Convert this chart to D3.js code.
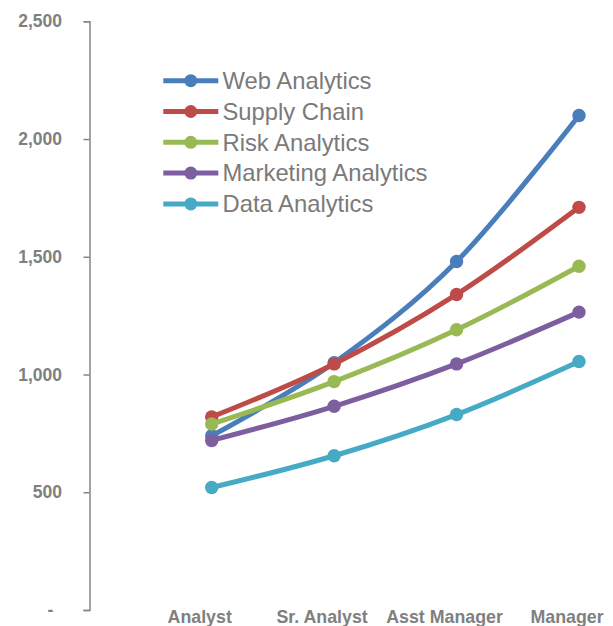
<!DOCTYPE html>
<html>
<head>
<meta charset="utf-8">
<script src="https://cdn.jsdelivr.net/npm/d3@7"></script>
<style>
  html, body { margin: 0; padding: 0; background: #fff; }
  svg { display: block; }
  text { font-family: "Liberation Sans", Arial, sans-serif; }
</style>
</head>
<body>
<svg id="chart" width="613" height="626"></svg>
<script>
// Salary progression by role level for each analytics track
const categories = ["Analyst", "Sr. Analyst", "Asst Manager", "Manager"];
const seriesNames = ["Web Analytics", "Supply Chain", "Risk Analytics", "Marketing Analytics", "Data Analytics"];
const webAnalytics       = [740, 1050, 1480, 2100];
const supplyChain        = [820, 1045, 1340, 1710];
const riskAnalytics      = [790, 970, 1190, 1460];
const marketingAnalytics = [720, 865, 1045, 1265];
const dataAnalytics      = [520, 655, 830, 1055];
const yTicks = [0, 500, 1000, 1500, 2000, 2500];
const colors = ["#4a7ebb", "#be4b48", "#98b954", "#7d5fa0", "#46aac5"];

const seriesValues = [webAnalytics, supplyChain, riskAnalytics, marketingAnalytics, dataAnalytics];
const series = seriesNames.map((name, i) => ({ name, color: colors[i], values: seriesValues[i] }));

const svg = d3.select("#chart");

const y = d3.scaleLinear().domain([0, 2500]).range([610, 21.3]);
const x = d3.scalePoint().domain(categories).range([211.7, 579]);

// Vertical value axis
const yAxis = d3.axisLeft(y)
  .tickValues(yTicks)
  .tickSize(6)
  .tickSizeOuter(6)
  .tickPadding(21.5)
  .tickFormat(d => d === 0 ? "-\u2002" : d3.format(",")(d));

const gy = svg.append("g")
  .attr("transform", "translate(89.5,0)")
  .call(yAxis);
gy.select(".domain").attr("stroke", "#868686").attr("stroke-width", 1.5);
gy.selectAll(".tick line").attr("stroke", "#868686").attr("stroke-width", 1.5);
gy.selectAll(".tick text")
  .attr("fill", "#808080")
  .style("font-family", "'Liberation Sans', Arial, sans-serif")
  .style("font-size", "17.5px")
  .style("font-weight", "bold")
  .style("white-space", "pre");

// Category labels along the bottom
svg.append("g")
  .selectAll("text")
  .data(categories)
  .join("text")
  .attr("x", d => x(d) - 12)
  .attr("y", 622.7)
  .attr("text-anchor", "middle")
  .attr("fill", "#808080")
  .style("font-size", "17.8px")
  .style("font-weight", "bold")
  .text(d => d);

// Smoothed lines with round markers
const line = d3.line()
  .x((d, i) => x(categories[i]))
  .y(d => y(d))
  .curve(d3.curveCardinal.tension(0));

const groups = svg.append("g")
  .selectAll("g")
  .data(series)
  .join("g");

groups.append("path")
  .attr("d", d => line(d.values))
  .attr("fill", "none")
  .attr("stroke", d => d.color)
  .attr("stroke-width", 5)
  .attr("stroke-linejoin", "round")
  .attr("stroke-linecap", "round");

groups.selectAll("circle")
  .data(d => d.values.map((v, i) => ({ v, i, color: d.color })))
  .join("circle")
  .attr("cx", d => x(categories[d.i]))
  .attr("cy", d => y(d.v))
  .attr("r", 6.7)
  .attr("fill", d => d.color);

// Legend
const legend = svg.append("g")
  .selectAll("g")
  .data(series)
  .join("g")
  .attr("transform", (d, i) => `translate(0,${80.7 + i * 30.8})`);

legend.append("line")
  .attr("x1", 163.3).attr("x2", 218.3)
  .attr("y1", 0).attr("y2", 0)
  .attr("stroke", d => d.color)
  .attr("stroke-width", 5);

legend.append("circle")
  .attr("cx", 190.8).attr("cy", 0).attr("r", 6.5)
  .attr("fill", d => d.color);

legend.append("text")
  .attr("x", 222.5)
  .attr("y", 0)
  .attr("dy", "0.35em")
  .attr("fill", "#7a7a7a")
  .style("font-size", "23.8px")
  .text(d => d.name);
</script>
</body>
</html>
